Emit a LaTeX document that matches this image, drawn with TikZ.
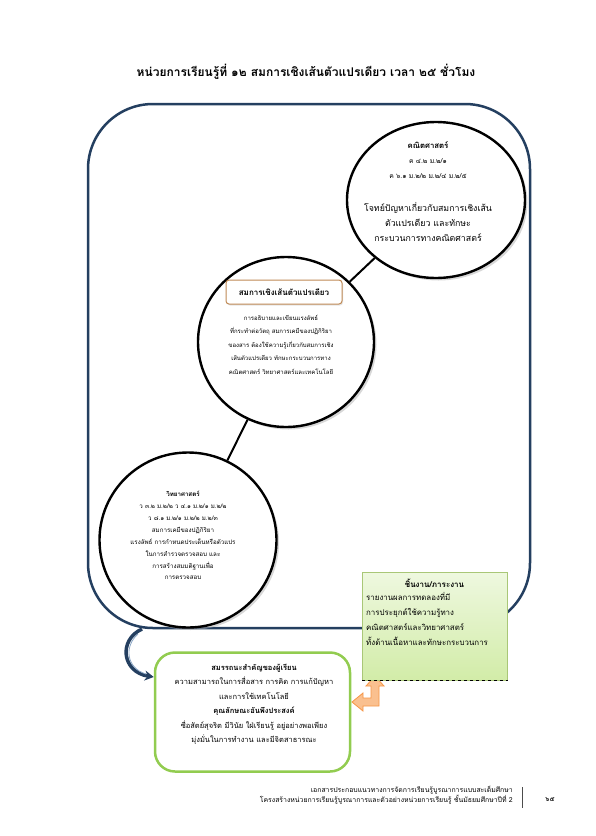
\documentclass[tikz,border=0pt]{standalone}
\usepackage{fontspec}
\newfontfamily\thai[Script=Thai]{Loma}
\usetikzlibrary{shapes.geometric, shadows, arrows.meta}

\definecolor{framecol}{HTML}{243F60}
\definecolor{framelite}{HTML}{8EA9C8}
\definecolor{labeledge}{HTML}{C08A55}
\definecolor{tasktop}{HTML}{EEF8DF}
\definecolor{taskbottom}{HTML}{D2ECA8}
\definecolor{taskedge}{HTML}{A9C777}
\definecolor{compedge}{HTML}{92CC50}
\definecolor{arrowfill}{HTML}{FAC08F}
\definecolor{arrowedge}{HTML}{F79646}

\tikzset{
  topic/.style={ellipse, draw=black, line width=2.4pt, fill=white, inner sep=0pt,
    drop shadow={shadow xshift=2.5pt, shadow yshift=-2.5pt, fill=black!30}},
  txt/.style={font=\thai, align=center, inner sep=0pt},
  link/.style={draw=black, line width=2pt},
}

\begin{document}
\begin{tikzpicture}[x=1pt, y=-1pt]
    % --- 1. page ---
    \useasboundingbox[fill=white] (0,0) rectangle (595,836);

    % --- 2. title ---
    \node[txt, font=\thai\bfseries\fontsize{12}{14}\selectfont] (title) at (306,72)
      {หน่วยการเรียนรู้ที่ ๑๒ สมการเชิงเส้นตัวแปรเดียว เวลา ๒๕ ชั่วโมง};

    % --- 3. big frame ---
    \draw[framecol, line width=2.5pt, rounded corners=65pt] (88,104) rectangle (530,628);

    % --- 4. the three circles ---
    \node[topic, minimum width=178pt, minimum height=156pt] (math) at (436,200) {};
    \node[topic, minimum width=176pt, minimum height=170pt] (unit) at (286,342) {};
    \node[topic, minimum width=177pt, minimum height=175pt] (sci) at (188,540) {};

    \draw[link] (math) -- (unit);
    \draw[link] (unit) -- (sci);

    % math
    \node[txt, anchor=north, font=\thai\fontsize{8.8}{15}\selectfont] (mathtxt) at (428,141)
      {{\fontsize{7.8}{15}\selectfont\textbf{คณิตศาสตร์}}\\
       {\fontsize{6.8}{15}\selectfont ค ๔.๒ ม.๒/๑}\\
       {\fontsize{6.8}{15}\selectfont ค ๖.๑ ม.๒/๒  ม.๒/๔ ม.๒/๕}\\[18pt]
       โจทย์ปัญหาเกี่ยวกับสมการเชิงเส้น\\
       ตัวแปรเดียว และทักษะ\\
       กระบวนการทางคณิตศาสตร์};

    % unit label + text
    \node[draw=labeledge, line width=1pt, fill=white, rounded corners=3pt,
      minimum width=116pt, minimum height=24pt, txt,
      font=\thai\bfseries\fontsize{8}{10}\selectfont,
      drop shadow={shadow xshift=1pt, shadow yshift=-1.5pt, fill=black!20}] (unitlbl) at (284,292)
      {สมการเชิงเส้นตัวแปรเดียว};
    \node[txt, anchor=north, font=\thai\fontsize{6}{13.5}\selectfont] (unittxt) at (281,315)
      {การอธิบายและเขียนแรงลัพธ์\\
       ที่กระทำต่อวัตถุ สมการเคมีของปฏิกิริยา\\
       ของสาร ต้องใช้ความรู้เกี่ยวกับสมการเชิง\\
       เส้นตัวแปรเดียว ทักษะกระบวนการทาง\\
       คณิตศาสตร์ วิทยาศาสตร์และเทคโนโลยี};

    % science
    \node[txt, anchor=north, font=\thai\fontsize{6.2}{11.9}\selectfont] (scitxt) at (183,491)
      {\textbf{วิทยาศาสตร์}\\
       ว ๓.๒ ม.๒/๒ ว ๔.๑ ม.๒/๑ ม.๒/๒\\
       ว ๘.๑ ม.๒/๑  ม.๒/๒ ม.๒/๓\\
       สมการเคมีของปฏิกิริยา\\
       แรงลัพธ์ การกำหนดประเด็นหรือตัวแปร\\
       ในการสำรวจตรวจสอบ และ\\
       การสร้างสมมติฐานเพื่อ\\
       การตรวจสอบ};

    % --- 5. task box + orange arrow ---
    \fill[arrowfill, draw=arrowedge, line width=0.8pt]
      (375,676) -- (384,686) -- (379,686) -- (379,706) -- (363,706) -- (363,711)
      -- (352,702) -- (363,693) -- (363,698) -- (371,698) -- (371,686) -- (366,686) -- cycle;
    \node[draw=taskedge, line width=0.8pt, top color=tasktop, bottom color=taskbottom,
      minimum width=145pt, minimum height=108pt, anchor=north west] (task) at (362,572) {};
    \draw[black, dashed, line width=0.8pt] (task.south west) -- (task.south east);
    \node[txt, font=\thai\bfseries\fontsize{8}{10}\selectfont] (tasktitle) at (434.5,583)
      {ชิ้นงาน/ภาระงาน};
    \node[txt, align=left, anchor=north west, font=\thai\fontsize{7.9}{15}\selectfont] (tasktxt) at (366,592)
      {รายงานผลการทดลองที่มี\\
       การประยุกต์ใช้ความรู้ทาง\\
       คณิตศาสตร์และวิทยาศาสตร์\\
       ทั้งด้านเนื้อหาและทักษะกระบวนการ};

    % --- 6. competency box ---
    \node[draw=compedge, line width=2.5pt, rounded corners=20pt, fill=white,
      minimum width=195pt, minimum height=119pt] (comp) at (252.5,712) {};
    \node[txt, anchor=north, font=\thai\fontsize{7.5}{14.4}\selectfont] (comptxt) at (254,664)
      {\textbf{สมรรถนะสำคัญของผู้เรียน}\\
       ความสามารถในการสื่อสาร การคิด  การแก้ปัญหา\\
       และการใช้เทคโนโลยี\\
       \textbf{คุณลักษณะอันพึงประสงค์}\\
       ซื่อสัตย์สุจริต  มีวินัย ใฝ่เรียนรู้ อยู่อย่างพอเพียง\\
       มุ่งมั่นในการทำงาน และมีจิตสาธารณะ};

    % curved arrow frame -> competency box
    \coordinate (frameout) at (142,629);
    \draw[framecol, line width=3.5pt, -{Stealth[length=9pt, width=10pt]}]
      (frameout) .. controls (118,640) and (122,672) .. ([yshift=35pt]comp.west);
    \draw[framelite, line width=0.8pt]
      (138,634) .. controls (124,646) and (126,668) .. (146,674);

    % --- 7. footer ---
    \node[txt, align=right, anchor=east, font=\thai\fontsize{6.9}{9}\selectfont] (foot) at (513,795)
      {เอกสารประกอบแนวทางการจัดการเรียนรู้บูรณาการแบบสะเต็มศึกษา\\
       โครงสร้างหน่วยการเรียนรู้บูรณาการและตัวอย่างหน่วยการเรียนรู้ ชั้นมัธยมศึกษาปีที่ 2};
    \draw[black!70, line width=1pt] (522,787) -- (522,808);
    \node[txt, font=\thai\bfseries\fontsize{6.5}{8}\selectfont] (page) at (550,800) {๖๕};
\end{tikzpicture}
\end{document}
